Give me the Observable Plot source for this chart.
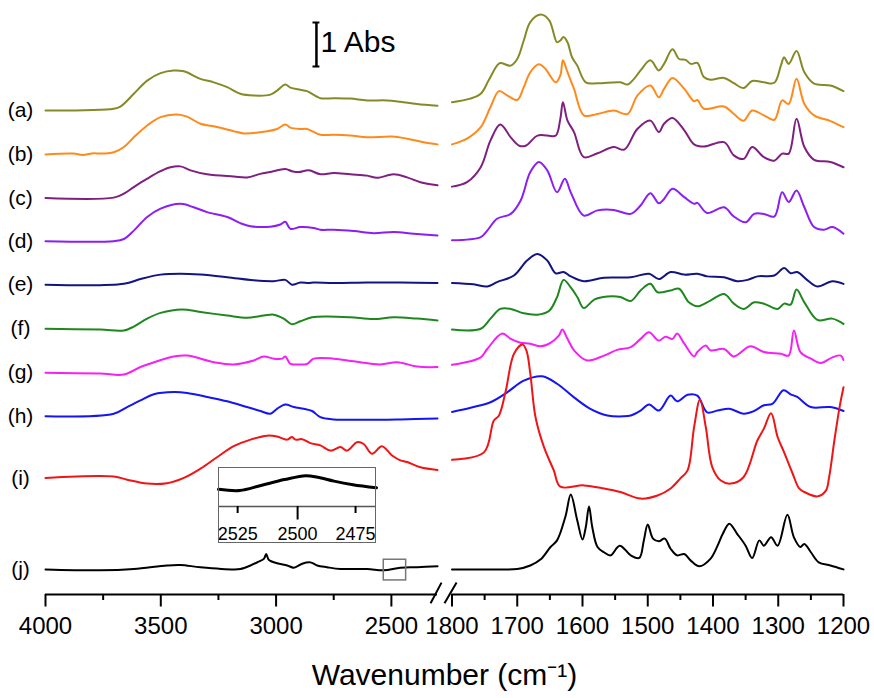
<!DOCTYPE html>
<html><head><meta charset="utf-8">
<script src="https://cdn.jsdelivr.net/npm/d3@7"></script>
<script src="https://cdn.jsdelivr.net/npm/@observablehq/plot@0.6"></script>
<style>
body{margin:0;background:#fff;}
#chart{position:relative;width:874px;height:698px;background:#fff;}
#inset{position:absolute;left:218px;top:467px;}
</style></head><body><div id="chart"><div id="inset"></div></div>
<script>
// ---- spectra: [wavenumber (cm-1), absorbance incl. stacking offset] ----
const aL = [[4000,11.00],[3704,11.04],[3675,11.09],[3617,11.38],[3559,11.68],[3501,11.85],[3444,11.91],[3400,11.89],[3328,11.72],[3270,11.64],[3212,11.53],[3155,11.38],[3097,11.34],[3025,11.36],[2996,11.45],[2960,11.59],[2938,11.52],[2895,11.47],[2866,11.44],[2808,11.28],[2750,11.28],[2678,11.27],[2605,11.23],[2519,11.23],[2461,11.20],[2389,11.15],[2300,11.11]];
const aR = [[1800,11.19],[1772,11.27],[1756,11.38],[1744,11.68],[1731,12.02],[1726,12.08],[1710,12.02],[1700,12.17],[1690,12.59],[1680,13.01],[1664,13.18],[1651,13.05],[1639,12.55],[1634,12.59],[1629,12.67],[1623,12.55],[1616,12.21],[1608,12.02],[1595,11.64],[1577,11.62],[1542,11.64],[1531,11.59],[1521,11.72],[1511,11.91],[1496,12.14],[1483,11.91],[1475,12.06],[1462,12.39],[1452,12.17],[1442,12.15],[1434,12.06],[1424,12.08],[1414,11.76],[1404,11.70],[1383,11.74],[1368,11.62],[1353,11.51],[1340,11.67],[1322,11.64],[1306,11.63],[1296,12.02],[1291,12.21],[1284,12.06],[1272,12.35],[1260,11.87],[1245,11.61],[1220,11.57],[1200,11.44]];

const bL = [[4000,10.00],[3880,10.02],[3840,9.99],[3790,10.03],[3762,10.02],[3704,10.05],[3660,10.17],[3617,10.39],[3559,10.66],[3501,10.85],[3429,10.91],[3386,10.86],[3328,10.70],[3270,10.64],[3184,10.53],[3140,10.48],[3039,10.53],[2996,10.58],[2960,10.68],[2938,10.61],[2895,10.58],[2866,10.58],[2808,10.45],[2750,10.45],[2678,10.43],[2605,10.39],[2497,10.41],[2432,10.36],[2360,10.28],[2300,10.23]];
const bR = [[1800,10.23],[1777,10.36],[1756,10.62],[1741,11.08],[1728,11.44],[1715,11.34],[1700,11.24],[1690,11.53],[1680,11.87],[1667,12.05],[1657,11.95],[1641,11.64],[1634,11.80],[1630,12.14],[1623,11.87],[1613,11.49],[1598,10.89],[1577,10.92],[1552,11.00],[1531,10.92],[1516,11.34],[1496,11.57],[1483,11.30],[1475,11.49],[1462,11.74],[1444,11.49],[1429,11.21],[1424,11.24],[1414,11.04],[1383,11.09],[1368,10.92],[1353,10.77],[1340,11.00],[1322,10.89],[1306,10.79],[1294,11.23],[1284,11.15],[1272,11.72],[1260,11.15],[1245,10.89],[1220,10.76],[1200,10.62]];

const cL = [[4000,9.01],[3704,9.02],[3660,9.11],[3617,9.26],[3559,9.45],[3501,9.62],[3458,9.71],[3415,9.73],[3371,9.64],[3299,9.55],[3184,9.50],[3126,9.48],[3068,9.56],[3025,9.60],[2960,9.67],[2931,9.62],[2902,9.60],[2858,9.64],[2808,9.55],[2750,9.58],[2678,9.55],[2605,9.52],[2562,9.47],[2490,9.55],[2432,9.48],[2374,9.37],[2300,9.30]];
const cR = [[1800,9.27],[1777,9.37],[1756,9.71],[1741,10.32],[1726,10.68],[1710,10.39],[1697,10.20],[1687,10.20],[1669,10.43],[1654,10.43],[1641,10.43],[1634,10.81],[1630,11.19],[1623,10.77],[1613,10.51],[1598,9.94],[1577,10.03],[1552,10.17],[1536,10.11],[1516,10.58],[1496,10.77],[1483,10.51],[1475,10.70],[1462,10.83],[1444,10.55],[1429,10.23],[1414,10.18],[1383,10.28],[1368,9.98],[1353,9.90],[1340,10.17],[1322,9.94],[1306,9.86],[1294,10.02],[1284,10.02],[1272,10.81],[1260,10.17],[1245,9.88],[1220,9.83],[1200,9.71]];

const dL = [[4000,8.03],[3704,8.03],[3660,8.08],[3617,8.27],[3559,8.58],[3501,8.77],[3415,8.88],[3357,8.80],[3299,8.69],[3212,8.58],[3155,8.44],[3111,8.37],[3025,8.36],[2981,8.41],[2960,8.47],[2938,8.31],[2895,8.35],[2837,8.33],[2808,8.29],[2750,8.29],[2663,8.26],[2577,8.21],[2490,8.24],[2403,8.20],[2300,8.16]];
const dR = [[1800,8.05],[1756,8.12],[1746,8.27],[1731,8.54],[1710,8.65],[1695,8.95],[1680,9.60],[1667,9.83],[1654,9.64],[1639,9.14],[1627,9.45],[1618,9.14],[1598,8.61],[1577,8.73],[1552,8.74],[1526,8.65],[1511,8.84],[1496,9.12],[1483,8.89],[1475,8.99],[1462,9.22],[1444,9.03],[1429,8.88],[1424,8.90],[1409,8.67],[1383,8.80],[1368,8.59],[1350,8.46],[1337,8.65],[1322,8.65],[1306,8.59],[1294,9.14],[1284,8.92],[1272,9.18],[1260,8.80],[1245,8.35],[1230,8.29],[1217,8.35],[1200,8.20]];

const eL = [[4000,7.04],[3660,7.06],[3588,7.17],[3501,7.27],[3415,7.29],[3328,7.27],[3212,7.21],[3097,7.14],[3010,7.12],[2960,7.15],[2931,7.04],[2895,7.09],[2858,7.08],[2837,7.09],[2750,7.08],[2605,7.09],[2461,7.09],[2300,7.08]];
const eR = [[1800,7.08],[1767,7.05],[1746,7.00],[1731,7.10],[1705,7.25],[1685,7.59],[1669,7.74],[1654,7.59],[1641,7.30],[1629,7.33],[1618,7.23],[1598,7.12],[1567,7.20],[1526,7.21],[1498,7.29],[1483,7.17],[1465,7.33],[1444,7.27],[1424,7.29],[1409,7.23],[1383,7.21],[1363,7.12],[1347,7.15],[1332,7.23],[1306,7.25],[1291,7.42],[1281,7.30],[1271,7.33],[1255,7.14],[1240,7.00],[1217,7.12],[1200,7.06]];

const fL = [[4000,6.04],[3762,6.02],[3660,6.00],[3617,6.09],[3559,6.27],[3501,6.40],[3408,6.48],[3328,6.42],[3212,6.34],[3126,6.29],[3053,6.34],[3010,6.36],[2967,6.27],[2931,6.14],[2895,6.21],[2844,6.30],[2779,6.32],[2678,6.30],[2577,6.26],[2490,6.30],[2389,6.27],[2300,6.23]];
const fR = [[1800,6.02],[1756,6.04],[1741,6.27],[1726,6.49],[1710,6.49],[1690,6.39],[1669,6.36],[1651,6.45],[1639,6.76],[1629,7.15],[1618,6.98],[1608,6.76],[1598,6.51],[1582,6.70],[1562,6.77],[1542,6.76],[1526,6.67],[1511,6.91],[1496,7.06],[1485,6.87],[1465,6.91],[1452,6.95],[1437,6.64],[1424,6.55],[1404,6.68],[1383,6.83],[1368,6.61],[1353,6.49],[1337,6.64],[1322,6.61],[1301,6.49],[1291,6.61],[1281,6.59],[1272,6.93],[1260,6.64],[1240,6.24],[1217,6.27],[1200,6.15]];

const gL = [[4000,5.04],[3762,5.02],[3660,5.00],[3588,5.17],[3516,5.30],[3444,5.41],[3386,5.43],[3270,5.28],[3184,5.23],[3097,5.32],[3053,5.41],[3010,5.36],[2974,5.36],[2960,5.41],[2938,5.24],[2909,5.23],[2866,5.24],[2837,5.36],[2750,5.36],[2663,5.30],[2548,5.23],[2475,5.28],[2389,5.18],[2300,5.17]];
const gR = [[1800,5.22],[1756,5.39],[1746,5.58],[1723,5.93],[1710,5.81],[1695,5.72],[1680,5.70],[1664,5.64],[1649,5.72],[1636,5.89],[1631,6.02],[1623,5.81],[1613,5.55],[1593,5.32],[1567,5.43],[1547,5.56],[1526,5.62],[1511,5.81],[1498,5.96],[1483,5.77],[1473,5.86],[1462,5.81],[1455,5.93],[1444,5.70],[1429,5.41],[1424,5.51],[1411,5.66],[1404,5.55],[1383,5.58],[1368,5.41],[1343,5.64],[1322,5.51],[1296,5.47],[1284,5.43],[1276,6.00],[1266,5.51],[1250,5.36],[1235,5.26],[1217,5.39],[1204,5.43],[1200,5.33]];

const hL = [[4000,4.05],[3704,4.11],[3646,4.26],[3588,4.41],[3530,4.55],[3444,4.60],[3386,4.58],[3299,4.49],[3212,4.39],[3126,4.26],[3068,4.17],[3025,4.11],[2996,4.22],[2960,4.32],[2923,4.26],[2880,4.22],[2844,4.17],[2808,4.03],[2750,3.98],[2605,3.97],[2461,3.98],[2300,4.00]];
const hR = [[1800,4.15],[1770,4.25],[1741,4.37],[1715,4.60],[1690,4.86],[1662,4.96],[1639,4.79],[1613,4.48],[1588,4.22],[1562,4.07],[1537,4.05],[1526,4.07],[1511,4.18],[1498,4.32],[1483,4.18],[1465,4.52],[1455,4.39],[1439,4.54],[1424,4.52],[1409,4.14],[1393,4.18],[1375,4.22],[1353,4.11],[1337,4.17],[1322,4.30],[1309,4.33],[1292,4.64],[1281,4.55],[1271,4.49],[1250,4.26],[1220,4.26],[1200,4.17]];

const iL = [[4000,2.65],[3704,2.68],[3646,2.61],[3559,2.52],[3473,2.53],[3400,2.65],[3328,2.86],[3256,3.12],[3184,3.37],[3111,3.52],[3039,3.61],[2996,3.59],[2952,3.52],[2931,3.58],[2916,3.52],[2887,3.53],[2851,3.44],[2808,3.39],[2764,3.27],[2721,3.35],[2692,3.27],[2649,3.46],[2620,3.42],[2584,3.20],[2541,3.37],[2497,3.16],[2461,3.05],[2432,3.01],[2374,2.89],[2300,2.83]];
const iR = [[1800,3.06],[1751,3.23],[1736,3.95],[1728,4.07],[1718,4.60],[1705,5.47],[1692,5.68],[1686,5.55],[1680,5.02],[1672,4.03],[1659,3.35],[1644,2.82],[1634,2.45],[1598,2.48],[1567,2.41],[1542,2.33],[1511,2.18],[1485,2.25],[1465,2.41],[1450,2.64],[1439,2.82],[1429,3.80],[1420,4.43],[1411,3.80],[1401,2.89],[1388,2.59],[1373,2.52],[1353,2.67],[1332,3.50],[1322,3.77],[1311,4.12],[1301,3.58],[1291,3.23],[1278,2.75],[1268,2.41],[1260,2.33],[1240,2.23],[1227,2.36],[1222,2.67],[1214,3.50],[1206,4.26],[1200,4.71]];

const jL = [[4000,0.57],[3762,0.55],[3617,0.58],[3473,0.66],[3415,0.67],[3328,0.62],[3184,0.57],[3155,0.58],[3111,0.66],[3082,0.73],[3053,0.81],[3043,0.92],[3032,0.79],[2996,0.71],[2952,0.66],[2923,0.61],[2887,0.70],[2851,0.73],[2822,0.66],[2779,0.62],[2721,0.58],[2605,0.58],[2533,0.55],[2461,0.61],[2389,0.62],[2300,0.64]];
const jR = [[1800,0.57],[1731,0.57],[1700,0.58],[1680,0.66],[1664,0.80],[1649,1.08],[1639,1.23],[1626,1.78],[1618,2.27],[1608,1.68],[1600,1.25],[1595,1.53],[1590,2.00],[1585,1.53],[1577,1.08],[1567,0.96],[1557,0.89],[1543,1.11],[1526,0.89],[1513,0.83],[1506,1.23],[1500,1.59],[1492,1.27],[1483,1.21],[1474,1.27],[1465,1.04],[1455,0.89],[1444,0.92],[1434,0.77],[1421,0.64],[1404,0.81],[1393,1.11],[1385,1.38],[1375,1.61],[1363,1.38],[1350,1.11],[1340,0.83],[1329,1.23],[1322,1.11],[1311,1.30],[1301,1.11],[1286,1.81],[1276,1.30],[1266,1.08],[1260,1.15],[1250,0.96],[1238,0.73],[1220,0.66],[1200,0.57]];

const labels = ["(a)","(b)","(c)","(d)","(e)","(f)","(g)","(h)","(i)","(j)"];
const colors = ["#858a26","#ff8a1c","#7f1f7f","#8a1ef5","#141480","#1e871e","#f520f5","#1414f5","#f01414","#000000"];
const leftSeries = [aL,bL,cL,dL,eL,fL,gL,hL,iL,jL];
const rightSeries = [aR,bR,cR,dR,eR,fR,gR,hR,iR,jR];

// axis ticks
const majorTicks = [4000,3500,3000,2500,1800,1700,1600,1500,1400,1300,1200];
const minorTicks = [3750,3250,2750,1750,1650,1550,1450,1350,1250];

// inset (zoom of 2530-2465 cm-1 of trace j)
const insetWn = [2531,2522,2513,2503,2494,2489,2482,2474,2464];
const insetY  = [0.44,0.41,0.54,0.69,0.79,0.75,0.65,0.56,0.48];
const insetMajor = [2500];
const insetMinor = [2525,2475];
const insetBox = [{x1:2533, x2:2436, y1:0.32, y2:0.79}];

const scaleBar = [{x:2825, y1:12.0, y2:13.0, text:"1 Abs"}];
const breakMarks = [{x1:2330,x2:2162,y1:-0.2,y2:0.27},{x1:2059,x2:1793,y1:-0.2,y2:0.27}];
const xTitle = "Wavenumber (cm\u207B\u00B9)";

const font = "'Liberation Sans', Arial, Helvetica, sans-serif";

const traceMarks = [];
leftSeries.forEach((s, k) => {
  traceMarks.push(Plot.line(s, {x: d => d[0], y: d => d[1], stroke: colors[k], strokeWidth: 2, curve: "catmull-rom"}));
  traceMarks.push(Plot.line(rightSeries[k], {x: d => d[0], y: d => d[1], stroke: colors[k], strokeWidth: 2, curve: "catmull-rom"}));
});
const labelRows = labels.map((t, k) => ({t, y: leftSeries[k][0][1]}));

const main = Plot.plot({
  width: 874, height: 698,
  marginLeft: 45, marginRight: 31, marginTop: 0, marginBottom: 104,
  style: {fontFamily: font, background: "#fff", color: "#000", overflow: "visible"},
  x: {type: "linear", domain: [4000, 2300, 1800, 1200], range: [45, 437, 451.5, 843]},
  y: {domain: [0, 13.5], axis: null},
  marks: [
    ...traceMarks,
    Plot.rect(insetBox, {x1: "x1", x2: "x2", y1: "y1", y2: "y2", fill: "none", stroke: "#777", strokeWidth: 1.5}),
    Plot.text(labelRows, {x: 4000, y: "y", text: "t", dx: -25, fontSize: 21, textAnchor: "middle"}),
    Plot.ruleY([0], {x1: 4000, x2: 2300, strokeWidth: 2}),
    Plot.ruleY([0], {x1: 1805, x2: 1200, strokeWidth: 2}),
    Plot.link(breakMarks, {x1: "x1", x2: "x2", y1: "y1", y2: "y2", strokeWidth: 2, stroke: "#000"}),
    Plot.axisX({ticks: majorTicks, tickSize: 12.5, tickPadding: 10, tickFormat: d => String(d), fontSize: 24, strokeWidth: 2, label: null}),
    Plot.axisX({ticks: minorTicks, tickSize: 6, tickFormat: () => "", strokeWidth: 2, label: null}),
    Plot.ruleX(scaleBar, {x: "x", y1: "y1", y2: "y2", strokeWidth: 2.5}),
    Plot.ruleY([12.0, 13.0], {x1: 2840, x2: 2810, strokeWidth: 2}),
    Plot.text(scaleBar, {x: "x", y: 12.55, text: "text", textAnchor: "start", dx: 4, fontSize: 30}),
    Plot.text([xTitle], {frameAnchor: "bottom", lineAnchor: "middle", dy: 81, fontSize: 30})
  ]
});
document.getElementById("chart").prepend(main);

const insetRows = insetWn.map((w, k) => ({w, y: insetY[k]}));
const inset = Plot.plot({
  width: 158, height: 76,
  marginLeft: 0, marginRight: 0, marginTop: 0, marginBottom: 37,
  style: {fontFamily: font, background: "#fff", color: "#000", overflow: "visible"},
  x: {domain: [2531, 2464]},
  y: {domain: [0, 1], axis: null},
  marks: [
    Plot.line(insetRows, {x: "w", y: "y", strokeWidth: 3, curve: "catmull-rom"}),
    Plot.ruleY([0], {stroke: "#555", strokeWidth: 1.5}),
    Plot.axisX({ticks: insetMajor, tickSize: 13.5, tickPadding: 7, tickFormat: d => String(d), fontSize: 18, strokeWidth: 2, label: null, dx: 6}),
    Plot.axisX({ticks: insetMinor, tickSize: 7, tickPadding: 13.5, tickFormat: d => String(d), fontSize: 18, strokeWidth: 2, label: null, dx: 5})
  ]
});
inset.style.outline = "1.5px solid #666";
inset.style.outlineOffset = "-1px";
inset.style.display = "block";
document.getElementById("inset").appendChild(inset);
</script></body></html>
